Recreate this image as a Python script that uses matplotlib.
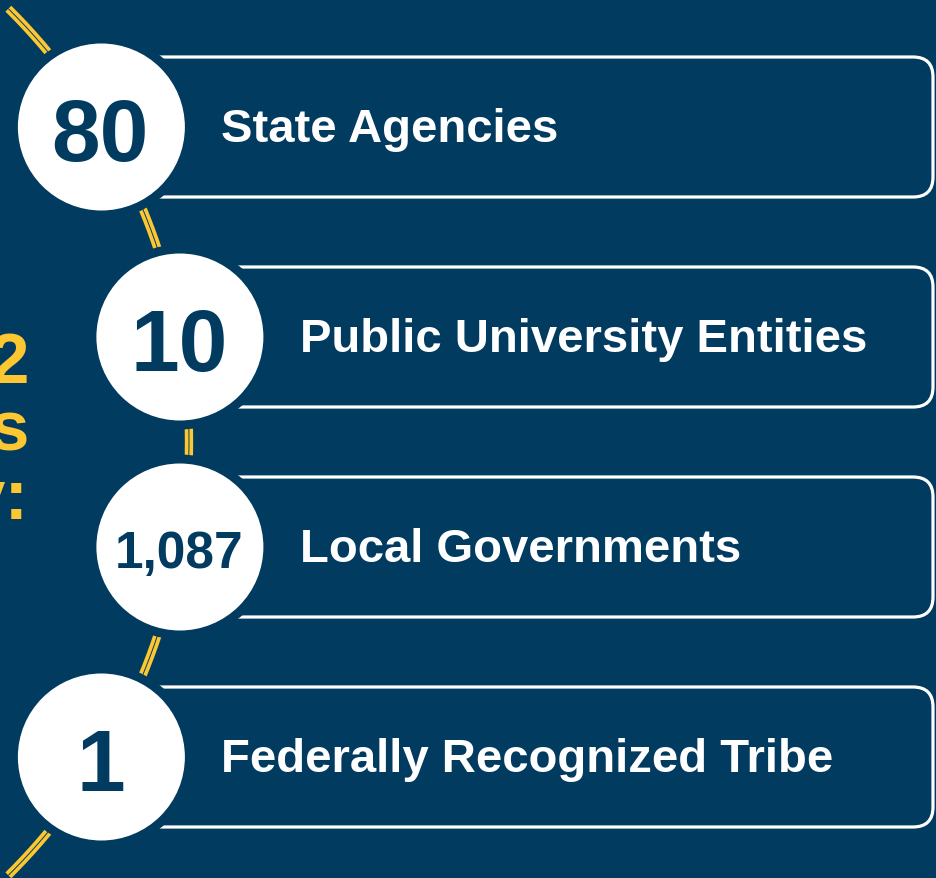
import numpy as np
import matplotlib
matplotlib.use('Agg')
import matplotlib.pyplot as plt
from matplotlib.patches import Circle, FancyBboxPatch

# data
counts = ['80', '10', '1,087', '1']
labels = ['State Agencies', 'Public University Entities',
          'Local Governments', 'Federally Recognized Tribe']
count_sizes = [63, 63, 37, 63]
side_text = ['2', 's', 'y:']

NAVY = '#013b60'
GOLD = '#fcc731'
W, H = 936, 879

plt.rcParams['font.family'] = ['Liberation Sans', 'DejaVu Sans']

fig = plt.figure(figsize=(W / 100., H / 100.), dpi=100, facecolor=NAVY)
ax = fig.add_axes([0, 0, 1, 1])
ax.set_facecolor(NAVY)
ax.set_xlim(0, W)
ax.set_ylim(H, 0)
ax.axis('off')

# big arc the circles sit on (stops just short of the top/bottom edge)
arc_cx, arc_cy, arc_r = -421., 443., 610.
t = np.linspace(-0.79, 0.79, 400)
ax.plot(arc_cx + arc_r * np.cos(t), arc_cy + arc_r * np.sin(t),
        color=GOLD, lw=6, zorder=1, solid_capstyle='butt')
ax.plot(arc_cx + arc_r * np.cos(t), arc_cy + arc_r * np.sin(t),
        color=NAVY, lw=0.7, zorder=1.1, solid_capstyle='butt')

row_gap = 210.
top_y = 128.
r_in = 83.5
for i, (num, lab, fs) in enumerate(zip(counts, labels, count_sizes)):
    cy = top_y + i * row_gap
    cx = arc_cx + np.sqrt(arc_r ** 2 - (cy - arc_cy) ** 2)

    # rounded box behind the circle
    box = FancyBboxPatch((cx, cy - 70), 933 - cx, 140,
                         boxstyle='round,pad=0,rounding_size=20',
                         fc='none', ec='white', lw=2.3, zorder=2)
    ax.add_patch(box)

    ax.add_patch(Circle((cx, cy), r_in + 9, fc=NAVY, ec='none', zorder=3))
    ax.add_patch(Circle((cx, cy), r_in, fc='white', ec='none', zorder=4))

    em = fs * 100 / 72.
    ax.text(cx - 1, cy + 0.5 * 0.716 * em + 2, num, ha='center', va='baseline',
            fontsize=fs, fontweight='bold', color=NAVY, zorder=5)
    ax.text(cx + 120, cy + 14, lab, ha='left', va='baseline',
            fontsize=34, fontweight='bold', color='white', zorder=5)

# cut-off heading on the far left (clipped in the original too)
for j, s in enumerate(side_text):
    ax.text(29, 383 + j * 68, s, ha='right', va='baseline',
            fontsize=51, fontweight='bold', color=GOLD, zorder=5)

plt.savefig('out.png', dpi=100, facecolor=NAVY)
